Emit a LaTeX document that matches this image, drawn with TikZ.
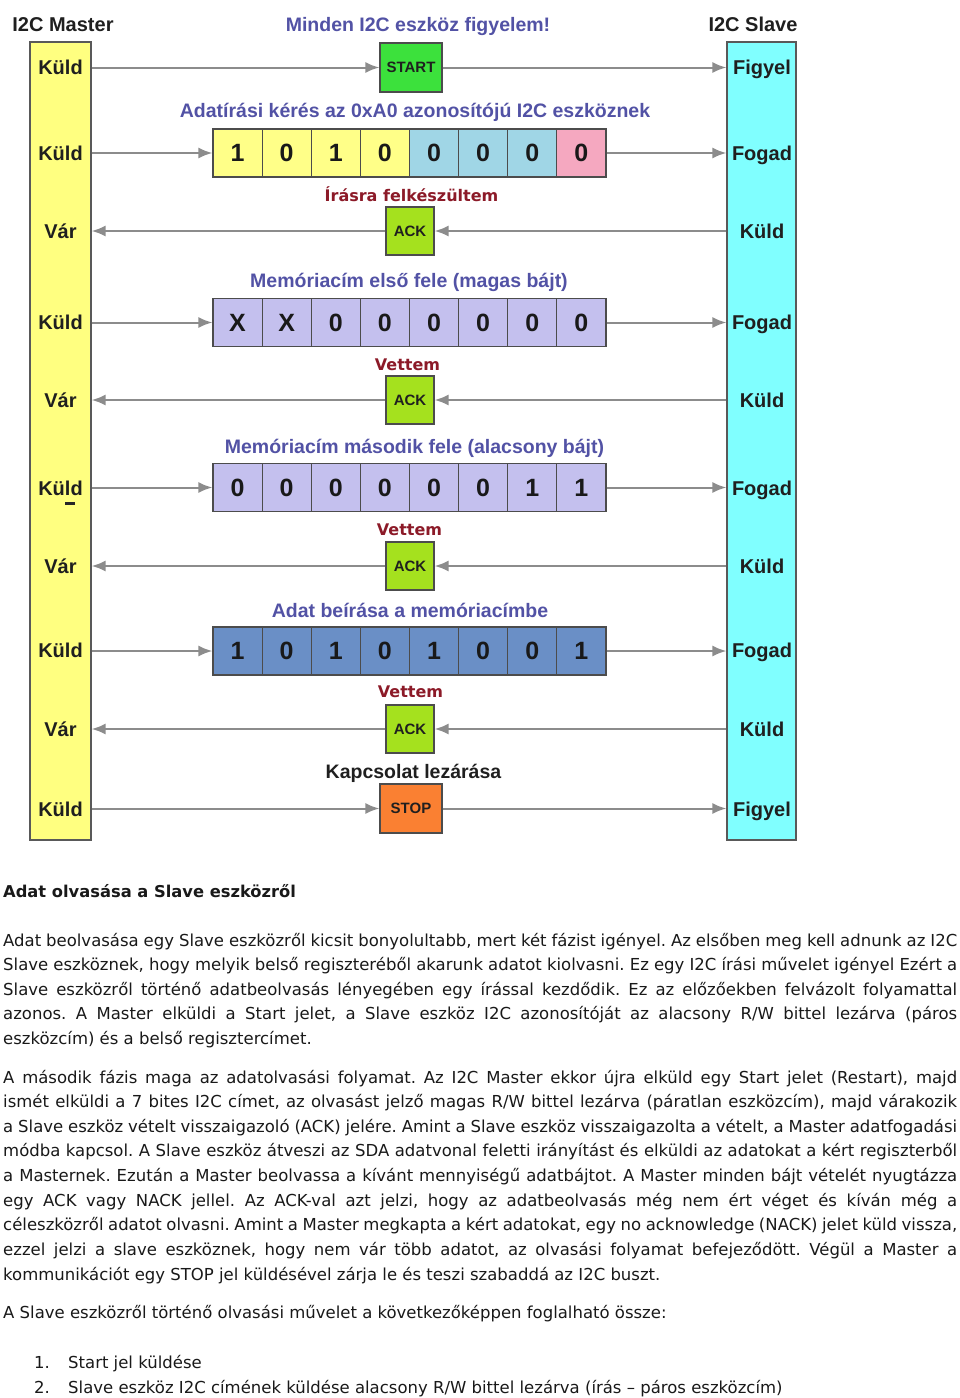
\documentclass[tikz,border=0pt]{standalone}
\usepackage{fontspec}
\setmainfont{Liberation Sans}
\newfontfamily\verdana{DejaVu Sans}
\usetikzlibrary{arrows.meta}
\frenchspacing

\definecolor{masteryellow}{RGB}{255,255,128}
\definecolor{slavecyan}{RGB}{128,255,255}
\definecolor{startgreen}{RGB}{60,225,60}
\definecolor{ackgreen}{RGB}{165,225,30}
\definecolor{stoporange}{RGB}{250,128,50}
\definecolor{cellyellow}{RGB}{255,255,136}
\definecolor{cellblue}{RGB}{160,214,230}
\definecolor{cellpink}{RGB}{245,168,192}
\definecolor{celllilac}{RGB}{196,192,238}
\definecolor{cellsteel}{RGB}{106,143,198}
\definecolor{headblue}{RGB}{82,82,165}
\definecolor{notered}{RGB}{140,26,40}
\definecolor{busgray}{RGB}{140,140,140}

\begin{document}
\begin{tikzpicture}[x=1pt, y=-1pt,
  bar/.style={draw=black!65, line width=1.2pt, minimum height=798pt, inner sep=0pt},
  lbl/.style={font=\bfseries\fontsize{20}{20}\selectfont, text=black!88, inner sep=0pt, text height=14.3pt, text depth=0pt},
  head/.style={font=\bfseries\fontsize{19.5}{20}\selectfont, text=headblue, inner sep=0pt, text height=14pt, text depth=0pt},
  note/.style={font=\verdana\bfseries\fontsize{16}{16}\selectfont, text=notered, inner sep=0pt, text height=11.7pt, text depth=0pt},
  sig/.style={draw=black!70, line width=1.2pt, minimum width=48pt, minimum height=48pt, inner sep=0pt, text=black!88,
    font=\bfseries\fontsize{15}{15}\selectfont, text height=10.7pt, text depth=0pt},
  cell/.style={draw=black!70, line width=1.2pt, minimum width=49.125pt, minimum height=48pt, inner sep=0pt, text=black!90,
    font=\bfseries\fontsize{25}{25}\selectfont, text height=17.9pt, text depth=0pt},
  bus/.style={draw=busgray, line width=2pt, -{Latex[length=14pt,width=11pt]}},
  body/.style={font=\verdana\fontsize{16.5}{24.65}\selectfont, inner sep=0pt, text=black!90}]

  \useasboundingbox (0,0) rectangle (960,1398);
  \fill[white] (0,0) rectangle (960,1398);

  % Master and Slave columns
  \node[bar, fill=masteryellow, minimum width=61pt] (master) at (60.5,441) {};
  \node[bar, fill=slavecyan, minimum width=69pt] (slave) at (761.5,441) {};
  \node[lbl] (mastertitle) at (63,24) {I2C Master};
  \node[lbl] (slavetitle) at (753,24) {I2C Slave};

  % what each side does, row by row
  \foreach \y/\m/\s [count=\r] in {67/Küld/Figyel, 153/Küld/Fogad, 231/Vár/Küld, 322/Küld/Fogad, 400/Vár/Küld,
      488/Küld/Fogad, 566/Vár/Küld, 650/Küld/Fogad, 729/Vár/Küld, 809/Küld/Figyel}
  {
    \node[lbl] (m\r) at (60.5,\y) {\m};
    \node[lbl] (s\r) at (762,\y) {\s};
  }
  \fill[black!85] (65,501.5) rectangle (75,504.5);

  % START and STOP
  \node[sig, fill=startgreen, minimum width=62pt, minimum height=49pt] (start) at (411,67.5) {START};
  \draw[bus] (master.east |- start.west) -- (start.west);
  \draw[bus] (start.east) -- (slave.west |- start.east);
  \node[sig, fill=stoporange, minimum width=62pt, minimum height=49pt] (stop) at (411,808.5) {STOP};
  \draw[bus] (master.east |- stop.west) -- (stop.west);
  \draw[bus] (stop.east) -- (slave.west |- stop.east);

  % ACK from the slave
  \foreach \y [count=\a] in {231,400,566,729} {
    \node[sig, fill=ackgreen] (ack\a) at (410,\y) {ACK};
    \draw[bus] (slave.west |- ack\a.east) -- (ack\a.east);
    \draw[bus] (ack\a.west) -- (master.east |- ack\a.west);
  }

  % address byte 0xA0
  \foreach \b/\c [count=\i] in {1/cellyellow,0/cellyellow,1/cellyellow,0/cellyellow,0/cellblue,0/cellblue,0/cellblue,0/cellpink}
    \node[cell, fill=\c] (a\i) at (188.4375+49.125*\i,153) {\b};
  % high byte of memory address
  \foreach \b [count=\i] in {X,X,0,0,0,0,0,0}
    \node[cell, fill=celllilac] (h\i) at (188.4375+49.125*\i,322.5) {\b};
  % low byte of memory address
  \foreach \b [count=\i] in {0,0,0,0,0,0,1,1}
    \node[cell, fill=celllilac] (l\i) at (188.4375+49.125*\i,487.5) {\b};
  % data byte
  \foreach \b [count=\i] in {1,0,1,0,1,0,0,1}
    \node[cell, fill=cellsteel] (d\i) at (188.4375+49.125*\i,651) {\b};

  \foreach \n in {a,h,l,d} {
    \draw[bus] (master.east |- \n1.west) -- (\n1.west);
    \draw[bus] (\n8.east) -- (slave.west |- \n8.east);
  }

  % captions
  \node[head] (hall) at (418,24.5) {Minden I2C eszköz figyelem!};
  \node[head] (haddr) at (415,110) {Adatírási kérés az 0xA0 azonosítójú I2C eszköznek};
  \node[note] (nready) at (411.5,196) {Írásra felkészültem};
  \node[head] (hhigh) at (409,280) {Memóriacím első fele (magas bájt)};
  \node[note] (ngot1) at (407.5,365) {Vettem};
  \node[head] (hlow) at (414.5,446) {Memóriacím második fele (alacsony bájt)};
  \node[note] (ngot2) at (409.5,530) {Vettem};
  \node[head] (hdata) at (410,610) {Adat beírása a memóriacímbe};
  \node[note] (ngot3) at (410.5,692) {Vettem};
  \node[head, text=black!88] (hclose) at (413.5,771.5) {Kapcsolat lezárása};

  % text below the diagram
  \node[body, anchor=base west, font=\verdana\bfseries\fontsize{16.3}{20}\selectfont] (title) at (3,897) {Adat olvasása a Slave eszközről};
  \node[body, anchor=base west, text width=954pt, align=justify] (para1) at (3,946) {%
    Adat beolvasása egy Slave eszközről kicsit bonyolultabb, mert két fázist igényel. Az elsőben meg kell adnunk az I2C\linebreak
    Slave eszköznek, hogy melyik belső regiszteréből akarunk adatot kiolvasni. Ez egy I2C írási művelet igényel Ezért a\linebreak
    Slave eszközről történő adatbeolvasás lényegében egy írással kezdődik. Ez az előzőekben felvázolt folyamattal\linebreak
    azonos. A Master elküldi a Start jelet, a Slave eszköz I2C azonosítóját az alacsony R/W bittel lezárva (páros\linebreak
    eszközcím) és a belső regisztercímet.};
  \node[body, anchor=base west, text width=954pt, align=justify] (para2) at (3,1083) {%
    A második fázis maga az adatolvasási folyamat. Az I2C Master ekkor újra elküld egy Start jelet (Restart), majd\linebreak
    ismét elküldi a 7 bites I2C címet, az olvasást jelző magas R/W bittel lezárva (páratlan eszközcím), majd várakozik\linebreak
    a Slave eszköz vételt visszaigazoló (ACK) jelére. Amint a Slave eszköz visszaigazolta a vételt, a Master adatfogadási\linebreak
    módba kapcsol. A Slave eszköz átveszi az SDA adatvonal feletti irányítást és elküldi az adatokat a kért regiszterből\linebreak
    a Masternek. Ezután a Master beolvassa a kívánt mennyiségű adatbájtot. A Master minden bájt vételét nyugtázza\linebreak
    egy ACK vagy NACK jellel. Az ACK-val azt jelzi, hogy az adatbeolvasás még nem ért véget és kíván még a\linebreak
    céleszközről adatot olvasni. Amint a Master megkapta a kért adatokat, egy no acknowledge (NACK) jelet küld vissza,\linebreak
    ezzel jelzi a slave eszköznek, hogy nem vár több adatot, az olvasási folyamat befejeződött. Végül a Master a\linebreak
    kommunikációt egy STOP jel küldésével zárja le és teszi szabaddá az I2C buszt.};
  \node[body, anchor=base west] (para3) at (3,1318) {A Slave eszközről történő olvasási művelet a következőképpen foglalható össze:};
  \node[body, anchor=base east] (num1) at (50,1368) {1.};
  \node[body, anchor=base west] (item1) at (68,1368) {Start jel küldése};
  \node[body, anchor=base east] (num2) at (50,1393) {2.};
  \node[body, anchor=base west] (item2) at (68,1393) {Slave eszköz I2C címének küldése alacsony R/W bittel lezárva (írás – páros eszközcím)};
\end{tikzpicture}
\end{document}
